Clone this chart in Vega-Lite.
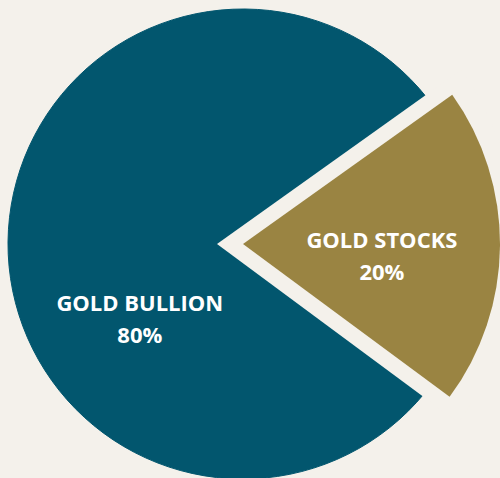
{
  "$schema": "https://vega.github.io/schema/vega-lite/v6.json",
  "autosize": {"type": "none"},
  "width": 486,
  "height": 468,
  "padding": {"left": 0, "top": 10, "right": 14, "bottom": 0},
  "background": "#F4F1EB",
  "config": {"view": {"stroke": null}},
  "data": {
    "values": [
      {"label": "GOLD BULLION", "value": 80},
      {"label": "GOLD STOCKS", "value": 20}
    ]
  },
  "transform": [
    {"calculate": "datum.label + '\\n' + datum.value + '%'", "as": "txt"}
  ],
  "layer": [
    {
      "mark": {"type": "arc", "outerRadius": 235, "fill": "#02566E", "stroke": "#02566E", "strokeWidth": 1},
      "encoding": {
        "theta": {"field": "value", "type": "quantitative", "stack": true, "scale": {"range": [0.9512, 7.2344]}},
        "order": {"field": "value", "sort": "ascending"}
      }
    },
    {
      "mark": {"type": "arc", "outerRadius": 300, "xOffset": -26, "fill": "#F4F1EB"},
      "encoding": {
        "theta": {"field": "value", "type": "quantitative", "stack": true, "scale": {"range": [0.9512, 7.2344]}},
        "order": {"field": "value", "sort": "ascending"},
        "opacity": {"condition": {"test": "datum.label === 'GOLD STOCKS'", "value": 1}, "value": 0}
      }
    },
    {
      "mark": {"type": "arc", "outerRadius": 257, "fill": "#9A8442"},
      "encoding": {
        "theta": {"field": "value", "type": "quantitative", "stack": true, "scale": {"range": [0.9512, 7.2344]}},
        "order": {"field": "value", "sort": "ascending"},
        "opacity": {"condition": {"test": "datum.label === 'GOLD STOCKS'", "value": 1}, "value": 0}
      }
    },
    {
      "mark": {"type": "text", "radius": 128, "thetaOffset": -0.642, "dy": -16, "font": "Open Sans", "fontWeight": "bold", "fontSize": 22, "fill": "#FFFFFF", "lineBreak": "\n", "lineHeight": 32, "align": "center", "baseline": "middle"},
      "encoding": {
        "theta": {"field": "value", "type": "quantitative", "stack": true, "scale": {"range": [0.9512, 7.2344]}},
        "order": {"field": "value", "sort": "ascending"},
        "text": {"condition": {"test": "datum.label === 'GOLD BULLION'", "field": "txt"}, "value": ""}
      }
    },
    {
      "mark": {"type": "text", "radius": 139.5, "thetaOffset": 0.086, "dy": -16, "font": "Open Sans", "fontWeight": "bold", "fontSize": 22, "fill": "#FFFFFF", "lineBreak": "\n", "lineHeight": 32, "align": "center", "baseline": "middle"},
      "encoding": {
        "theta": {"field": "value", "type": "quantitative", "stack": true, "scale": {"range": [0.9512, 7.2344]}},
        "order": {"field": "value", "sort": "ascending"},
        "text": {"condition": {"test": "datum.label === 'GOLD STOCKS'", "field": "txt"}, "value": ""}
      }
    }
  ]
}
